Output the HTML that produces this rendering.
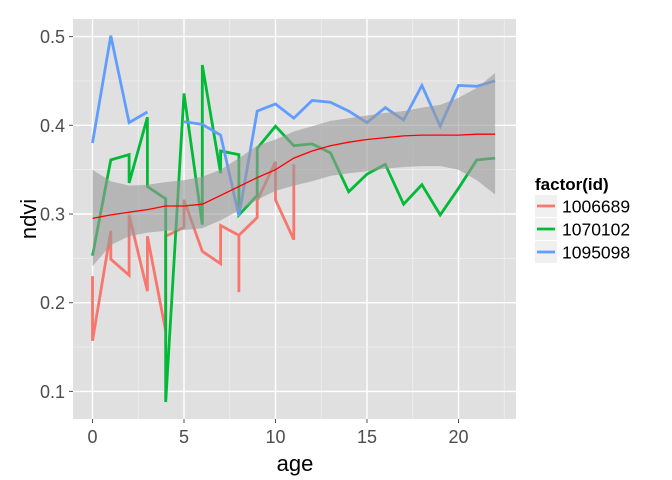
<!DOCTYPE html>
<html><head><meta charset="utf-8"><style>
html,body{margin:0;padding:0;background:#fff;}
svg{display:block;font-family:"Liberation Sans",sans-serif;}
</style></head><body>
<svg id="chart" width="672" height="480" viewBox="0 0 672 480"></svg>
<script>
const ages = [0,1,2,3,4,5,6,7,8,9,10,11,12,13,14,15,16,17,18,19,20,21,22];
const redX = [0,0,1,1,2,2,3,3,4,4,5,5,6,7,7,8,8,8,9,9,10,10,11,11];
const redY = [.230,.157,.281,.249,.231,.299,.213,.275,.168,.275,.285,.316,.258,.244,.287,.276,.212,.276,.296,.315,.359,.316,.271,.356];
const greenX = [0,1,2,2,3,3,4,4,5,6,6,7,7,8,8,9,9,10,11,12,13,14,15,16,17,18,19,20,21,22];
const greenY = [.253,.361,.367,.335,.409,.331,.317,.088,.436,.288,.468,.346,.371,.367,.299,.321,.374,.399,.377,.379,.369,.325,.345,.356,.311,.333,.299,.329,.361,.363];
const blueX1 = [0,1,2,3];
const blueY1 = [.380,.501,.403,.415];
const blueX2 = [5,6,7,8,9,10,11,12,13,14,15,16,17,18,19,20,21,22];
const blueY2 = [.404,.401,.389,.298,.416,.424,.408,.428,.426,.416,.403,.420,.406,.445,.399,.445,.444,.450];
const smoothFit = [.295,.299,.302,.305,.309,.309,.311,.321,.331,.341,.350,.363,.371,.377,.381,.384,.386,.388,.389,.389,.389,.390,.390];
const smoothHi = [.350,.337,.332,.333,.336,.338,.342,.350,.363,.377,.384,.393,.399,.405,.408,.411,.414,.416,.420,.423,.431,.442,.459];
const smoothLo = [.241,.265,.275,.279,.281,.282,.284,.293,.304,.316,.326,.332,.337,.343,.346,.348,.351,.353,.354,.354,.350,.338,.322];
const xTicks = [0,5,10,15,20];
const yTicks = [0.1,0.2,0.3,0.4,0.5];
const legendLabels = ["1006689","1070102","1095098"];
const colors = ["#f8766d","#00ba38","#619cff"];

const L=73,R=516,T=19,B=419;
const sx=v=>92.5+v*18.3;
const sy=v=>214-(v-0.3)*887;
const svg=document.getElementById('chart');
const NS='http://www.w3.org/2000/svg';
function mk(tag,attrs,parent){const e=document.createElementNS(NS,tag);for(const k in attrs)e.setAttribute(k,attrs[k]);(parent||svg).appendChild(e);return e;}

const panel=mk('rect',{x:L,y:T,width:R-L,height:B-T,fill:'#e0e0e0'});


const grid=mk('g',{});


for(let i=0;i<xTicks.length;i++){
  const v=xTicks[i];
  mk('line',{x1:sx(v),x2:sx(v),y1:T,y2:B,stroke:'#fff','stroke-width':1.4},grid);
  mk('line',{x1:sx(v+2.5),x2:sx(v+2.5),y1:T,y2:B,stroke:'#f0f0f0','stroke-width':0.7},grid);
}
for(let i=0;i<yTicks.length;i++){
  const v=yTicks[i];
  mk('line',{x1:L,x2:R,y1:sy(v),y2:sy(v),stroke:'#fff','stroke-width':1.4},grid);
  mk('line',{x1:L,x2:R,y1:sy(v+0.05),y2:sy(v+0.05),stroke:'#f0f0f0','stroke-width':0.7},grid);
}
function pts(xs,ys){return xs.map((x,i)=>sx(x).toFixed(1)+','+sy(ys[i]).toFixed(1)).join(' ');}
function series(xs,ys,c,name){
  const p=mk('polyline',{points:pts(xs,ys),fill:'none',stroke:c,'stroke-width':2.8,'stroke-linejoin':'miter'});
  
  
}
series(redX,redY,colors[0],'line-1006689');
series(greenX,greenY,colors[1],'line-1070102');
series(blueX1,blueY1,colors[2],'line-1095098-a');
series(blueX2,blueY2,colors[2],'line-1095098-b');
const band=mk('polygon',{points:pts(ages,smoothHi)+' '+pts(ages.slice().reverse(),smoothLo.slice().reverse()),fill:'#999','fill-opacity':0.6});


const sm=mk('polyline',{points:pts(ages,smoothFit),fill:'none',stroke:'#ff0000','stroke-width':1.3});



const ax=mk('g',{fill:'#4d4d4d','font-size':18});


for(const v of xTicks){
  mk('line',{x1:sx(v),x2:sx(v),y1:B,y2:B+4,stroke:'#4d4d4d','stroke-width':1},ax);
  const t=mk('text',{x:sx(v),y:B+24,'text-anchor':'middle'},ax);t.textContent=v;
}
for(const v of yTicks){
  mk('line',{x1:L-4,x2:L,y1:sy(v),y2:sy(v),stroke:'#4d4d4d','stroke-width':1},ax);
  const t=mk('text',{x:L-8,y:sy(v)+6.5,'text-anchor':'end'},ax);t.textContent=v.toFixed(1);
}
const xt=mk('text',{x:295,y:471,'text-anchor':'middle','font-size':22,fill:'#000'});xt.textContent='age';


const yt=mk('text',{x:0,y:0,'text-anchor':'middle','font-size':22,fill:'#000',transform:'translate(36,219) rotate(-90)'});yt.textContent='ndvi';



const lg=mk('g',{});


const lt=mk('text',{x:535,y:190,'font-size':17,'font-weight':'bold',fill:'#000'},lg);lt.textContent='factor(id)';
for(let i=0;i<legendLabels.length;i++){
  const cy=206+i*23;
  const e=mk('g',{},lg);
  
  
  mk('rect',{x:535,y:cy-11,width:22,height:22,fill:'#f0f0f0'},e);
  mk('line',{x1:537,x2:555,y1:cy,y2:cy,stroke:colors[i],'stroke-width':2.8},e);
  const t=mk('text',{x:562,y:cy+6.5,'font-size':17.5,fill:'#000'},e);t.textContent=legendLabels[i];
}
</script>
</body></html>
